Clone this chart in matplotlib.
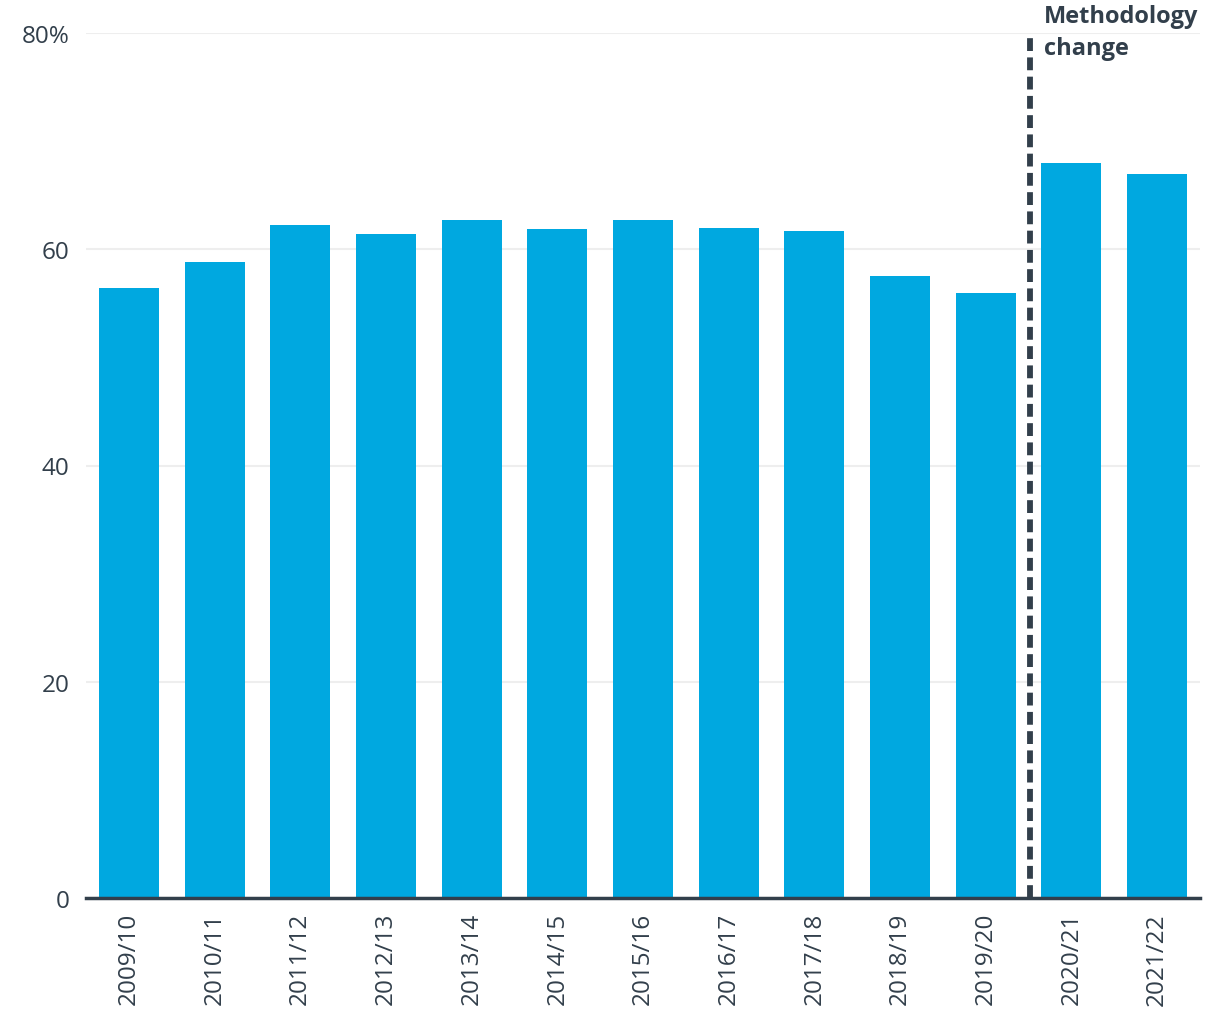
import matplotlib
matplotlib.use("Agg")
import matplotlib.pyplot as plt
from matplotlib.transforms import blended_transform_factory

years = ["2009/10", "2010/11", "2011/12", "2012/13", "2013/14", "2014/15", "2015/16",
         "2016/17", "2017/18", "2018/19", "2019/20", "2020/21", "2021/22"]
values = [56.4, 58.8, 62.2, 61.4, 62.7, 61.9, 62.7, 62.0, 61.7, 57.5, 56.0, 68.0, 67.0]
yticks = [0, 20, 40, 60, 80]
ytick_labels = ["0", "20", "40", "60", "80%"]

text_color = "#323f4b"
bar_color = "#00a8e0"

plt.rcParams['font.family'] = ['Open Sans', 'DejaVu Sans']

fig = plt.figure(figsize=(12.2, 10.2), dpi=100)
ax = fig.add_axes([86/1220, 1-899/1020, (1200-86)/1220, (899-34)/1020])

x = list(range(len(years)))
ax.bar(x, values, width=0.7, color=bar_color, zorder=2)

ax.set_xlim(-0.5, len(years) - 0.5)
ax.set_ylim(0, 80)
ax.set_yticks(yticks)
ax.set_yticklabels(ytick_labels)
ax.set_xticks(x)
ax.set_xticklabels(years, rotation=90)

ax.grid(axis='y', color='#eeeeee', linewidth=1.5, zorder=0)
for s in ['top', 'right', 'left']:
    ax.spines[s].set_visible(False)
ax.spines['bottom'].set_color(text_color)
ax.spines['bottom'].set_linewidth(2.5)
ax.spines['bottom'].set_zorder(3)

ax.tick_params(axis='y', length=0, labelsize=17.5, labelcolor=text_color, pad=12)
ax.tick_params(axis='x', length=0, labelsize=17.5, labelcolor=text_color, pad=10)

ax.axvline(10.52, ymin=0, ymax=1, color=text_color, linestyle=(0, (2.2, 1.1)), linewidth=4.2, zorder=3)
trans = blended_transform_factory(ax.transData, fig.transFigure)
ax.text(10.68, 1 - 5/1020, "Methodology\nchange", fontsize=17, fontweight='bold', color=text_color,
        va='top', ha='left', linespacing=1.45, clip_on=False, transform=trans)

fig.savefig("out.png", dpi=100)
